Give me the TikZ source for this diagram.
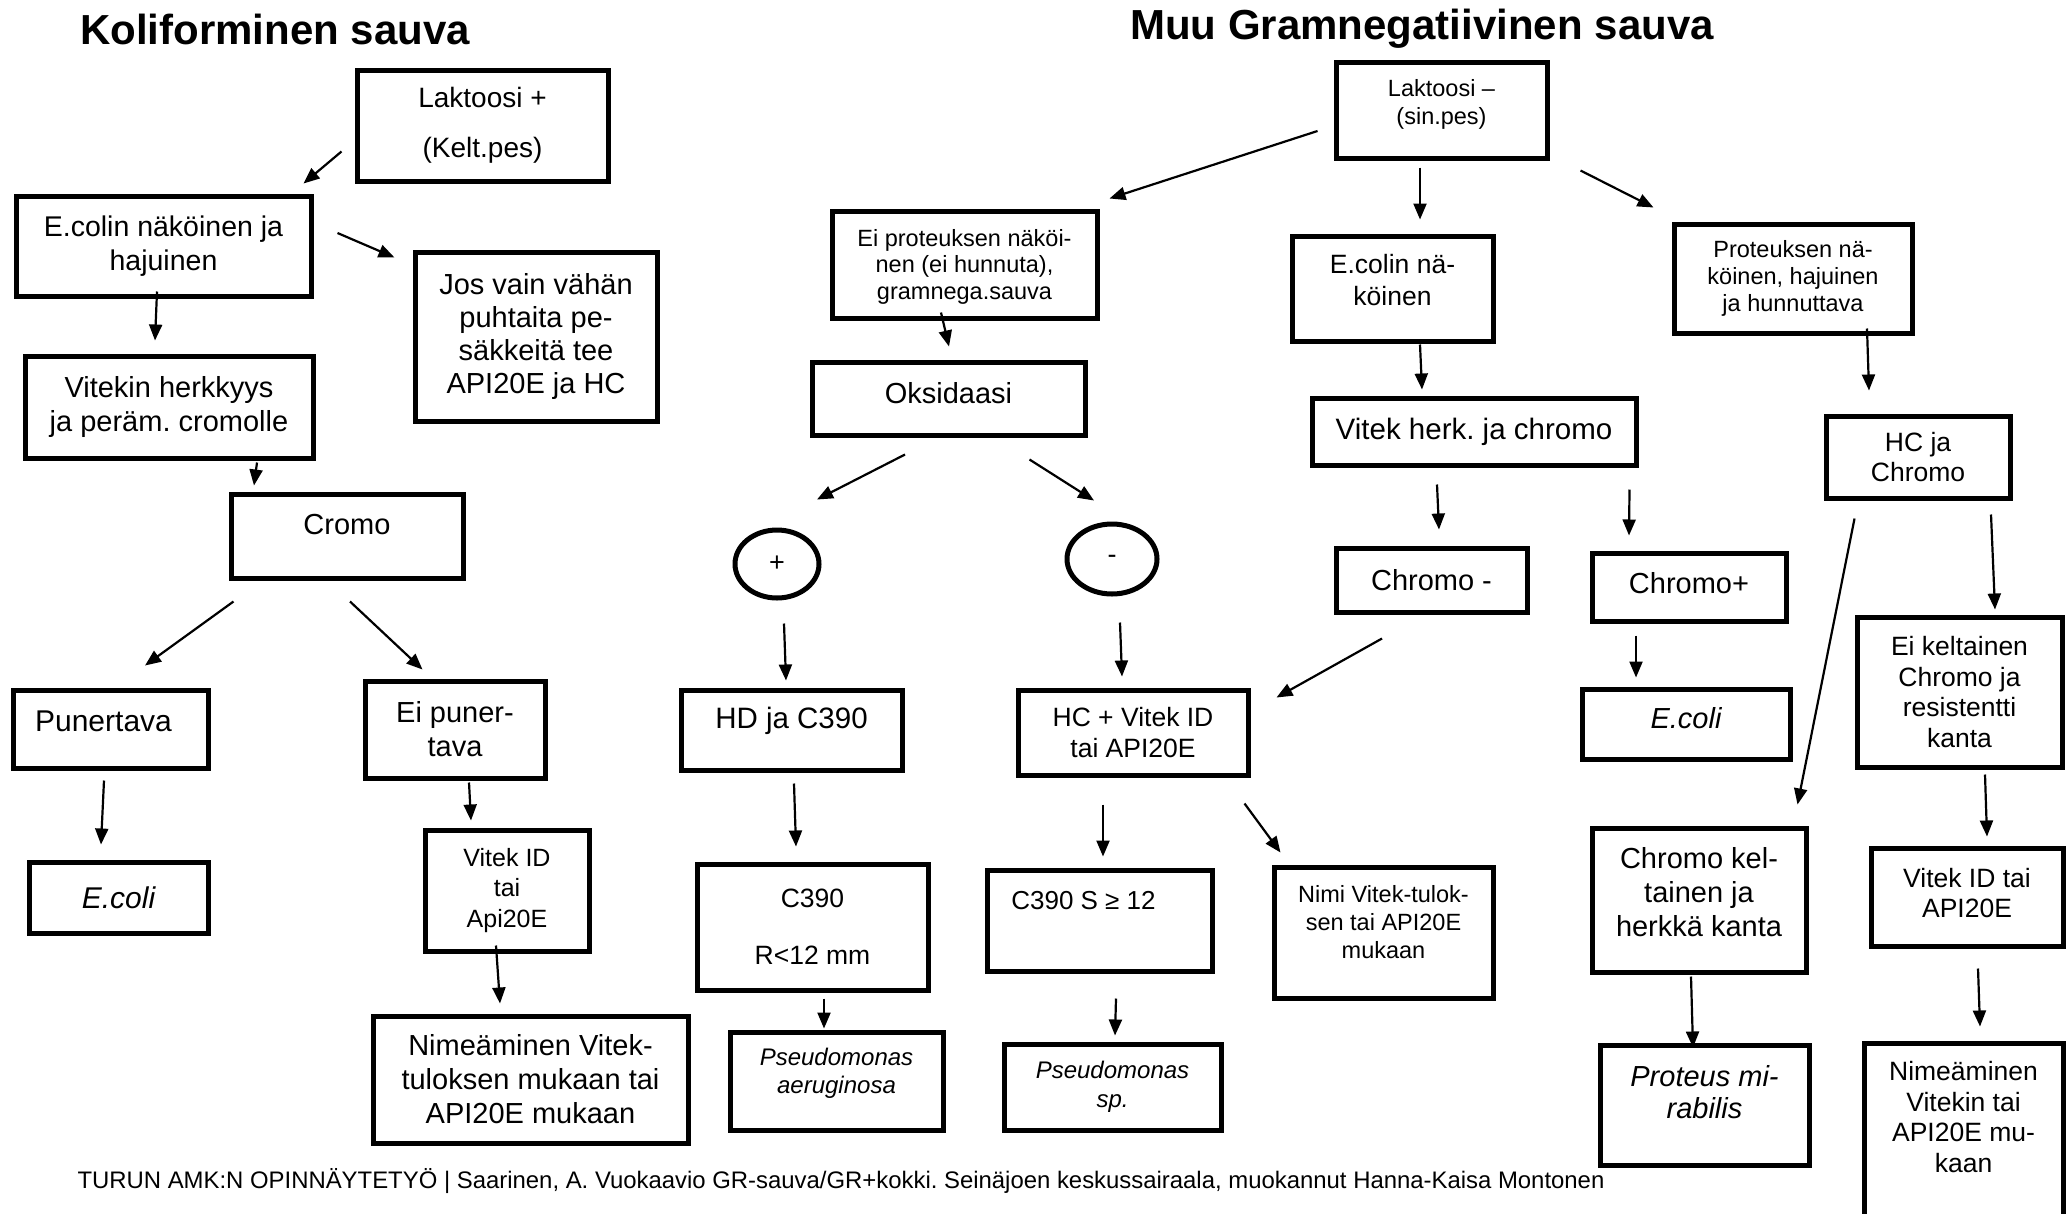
\documentclass[tikz,border=0pt]{standalone}
\usepackage{fontspec}
\setmainfont{Liberation Sans}
\usetikzlibrary{arrows.meta,calc,shapes.geometric}
\frenchspacing

\newcommand{\fsz}[2]{\fontsize{#1pt}{#2pt}\selectfont}

\tikzset{
  box/.style={draw, line width=5pt, inner sep=0pt, align=center},
  wh/.style 2 args={minimum width=#1pt, minimum height=#2pt},
  oval/.style={draw, ellipse, line width=5pt, inner sep=0pt},
  arr/.style={-{Triangle[length=16pt,width=13pt]}, line width=2.2pt},
  title/.style={font=\bfseries\fsz{42}{48}},
}

\begin{document}
\begin{tikzpicture}[x=1pt, y=-1pt]
  \useasboundingbox (0,0) rectangle (2066,1213);

  % titles
  \node[title] (tkoli) at (275,29) {Koliforminen sauva};
  \node[title] (tmuu) at (1422,29) {Muu Gramnegatiivinen sauva};

  % boxes, coliform side
  \node[box, wh={251}{111}, font=\fsz{28}{50}] (lakp) at (482.5,125.5) {Laktoosi +\\(Kelt.pes)};
  \node[box, wh={295}{100}, font=\fsz{28.5}{34}] (ecolin) at (163.5,246) {E.colin näköinen ja\\hajuinen};
  \node[box, wh={242}{169}, font=\fsz{29}{33}] (jos) at (536,336.5) {Jos vain vähän\\puhtaita pe-\\säkkeitä tee\\API20E ja HC};
  \node[box, wh={288}{102}, font=\fsz{29}{34}] (vitekin) at (169,407) {Vitekin herkkyys\\ja peräm. cromolle};
  \node[box, wh={232}{84}, label={[font=\fsz{29}{34}, yshift=11pt]center:Cromo}] (cromo) at (347,536) {};
  \node[box, wh={195}{78}, label={[font=\fsz{30}{34}, xshift=-7pt, yshift=8pt]center:Punertava}] (punert) at (110.5,729) {};
  \node[box, wh={180}{97}, font=\fsz{29}{34}] (eipun) at (455,729.5) {Ei puner-\\tava};
  \node[box, wh={179}{71}, font=\itshape\fsz{30}{34}] (ecolil) at (118.5,897.5) {E.coli};
  \node[box, wh={164}{121}, font=\fsz{25}{30.5}] (vitekid) at (507,890.5) {Vitek ID\\tai\\Api20E};
  \node[box, wh={315}{127}, font=\fsz{29}{34}] (nimeam) at (530.5,1079.5) {Nimeäminen Vitek-\\tuloksen mukaan tai\\API20E mukaan};

  % boxes, other gram negative side
  \node[box, wh={211}{96}, label={[align=center, font=\fsz{23.5}{28}, yshift=6pt]center:{Laktoosi –\\(sin.pes)}}] (lakm) at (1441.5,110) {};
  \node[box, wh={265}{107}, label={[align=center, font=\fsz{23.5}{26.5}, yshift=-2pt]center:{Ei proteuksen näköi-\\nen (ei hunnuta),\\gramnega.sauva}}] (eiprot) at (964.5,264.5) {};
  \node[box, wh={201}{105}, label={[align=center, font=\fsz{26.5}{32}, yshift=8pt]center:{E.colin nä-\\köinen}}] (ecolinr) at (1392.5,288.5) {};
  \node[box, wh={238}{109}, font=\fsz{23.5}{27}] (proteuk) at (1793,278.5) {Proteuksen nä-\\köinen, hajuinen\\ja hunnuttava};
  \node[box, wh={273}{73}, label={[font=\fsz{29}{34}, yshift=5pt]center:Oksidaasi}] (oksid) at (948.5,398.5) {};
  \node[box, wh={324}{67}, font=\fsz{29.5}{34}] (vitherk) at (1474,431.5) {Vitek herk. ja chromo};
  \node[box, wh={184}{82}, font=\fsz{26.5}{30}] (hcchromo) at (1918,457) {HC ja\\Chromo};
  \node[oval, minimum width=84pt, minimum height=68pt, font=\fsz{27}{30}] (plus) at (777,564) {+};
  \node[oval, minimum width=90pt, minimum height=70pt, font=\fsz{27}{30}] (minus) at (1112,559) {-};
  \node[box, wh={191}{64}, font=\fsz{29}{34}] (chrm) at (1431.5,580) {Chromo -};
  \node[box, wh={194}{68}, label={[font=\fsz{29}{34}, yshift=4pt]center:Chromo+}] (chrp) at (1689,587) {};
  \node[box, wh={205}{150}, font=\fsz{26.5}{30.5}] (eikelt) at (1959.5,692) {Ei keltainen\\Chromo ja\\resistentti\\kanta};
  \node[box, wh={221}{80}, label={[font=\fsz{29.5}{34}, yshift=9pt]center:HD ja C390}] (hdc) at (791.5,730) {};
  \node[box, wh={230}{85}, font=\fsz{26.5}{31}] (hcvit) at (1133,732.5) {HC + Vitek ID\\tai API20E};
  \node[box, wh={208}{70}, label={[font=\itshape\fsz{29}{34}, yshift=6pt]center:E.coli}] (ecolir) at (1686,724) {};
  \node[box, wh={214}{144}, label={[align=center, font=\fsz{29}{34}, yshift=8pt]center:{Chromo kel-\\tainen ja\\herkkä kanta}}] (chrkel) at (1699,900) {};
  \node[box, wh={192}{98}, label={[align=center, font=\fsz{26.5}{30}, yshift=4pt]center:{Vitek ID tai\\API20E}}] (vitidr) at (1967,897) {};
  \node[box, wh={231}{126}, font=\fsz{26.5}{57}] (c390r) at (812.5,927) {C390\\R<12 mm};
  \node[box, wh={225}{101}, label={[font=\fsz{26}{30}, xshift=-16pt, yshift=20pt]center:C390 S ≥ 12}] (c390s) at (1099.5,920.5) {};
  \node[box, wh={219}{131}, label={[align=center, font=\fsz{23.5}{28}, yshift=10pt]center:{Nimi Vitek-tulok-\\sen tai API20E\\mukaan}}] (nimi) at (1383.5,932.5) {};
  \node[box, wh={213}{98}, label={[align=center, font=\itshape\fsz{24}{28}, yshift=8pt]center:{Pseudomonas\\aeruginosa}}] (pseua) at (836.5,1081) {};
  \node[box, wh={217}{86}, font=\itshape\fsz{24}{29}] (pseus) at (1112.5,1087) {Pseudomonas\\sp.};
  \node[box, wh={209}{120}, label={[align=center, font=\itshape\fsz{29}{32}, yshift=13pt]center:{Proteus mi-\\rabilis}}] (proteus) at (1704.5,1105) {};
  \node[box, wh={199}{200}, label={[align=center, font=\fsz{26.5}{30.7}, yshift=26pt]center:{Nimeäminen\\Vitekin tai\\API20E mu-\\kaan}}] (nimr) at (1963.5,1143) {};

  % source line
  \node[font=\fsz{23.9}{27}] (foot) at (841,1181) {TURUN AMK:N OPINNÄYTETYÖ | Saarinen, A. Vuokaavio GR-sauva/GR+kokki. Seinäjoen keskussairaala, muokannut Hanna-Kaisa Montonen};

  % arrows, coliform side
  \draw[arr] ($(lakp.west)+(-13,26)$) -- ($(ecolin.north east)+(-10,-10)$);
  \draw[arr] ($(ecolin.east)+(24,-13)$) -- ($(jos.north west)+(-18,8)$);
  \draw[arr] ($(ecolin.south)+(-6.5,-7)$) -- ($(vitekin.north)+(-14,-13)$);
  \draw[arr] ($(vitekin.south)+(88,2)$) -- ($(cromo.north)+(-93,-6)$);
  \draw[arr] ($(cromo.south west)+(5,21)$) -- ($(punert.north)+(34.5,-22)$);
  \draw[arr] ($(cromo.south)+(3,21)$) -- ($(eipun.north west)+(60,-9)$);
  \draw[arr] ($(punert.south)+(-6.5,10)$) -- ($(ecolil.north)+(-17.5,-15)$);
  \draw[arr] ($(eipun.south)+(14,2)$) -- ($(vitekid.north)+(-36,-7)$);
  \draw[arr] ($(vitekid.south)+(-11,-8)$) -- ($(nimeam.north)+(-30.5,-10)$);

  % arrows, other gram negative side
  \draw[arr] ($(lakm.west)+(-16,21)$) -- ($(eiprot.north east)+(10,-10)$);
  \draw[arr] ($(lakm.south)+(-21.5,7)$) -- ($(ecolinr.north)+(27.5,-14)$);
  \draw[arr] ($(lakm.south east)+(31,10)$) -- ($(proteuk.north west)+(-18,-14)$);
  \draw[arr] ($(eiprot.south)+(-23.5,-8)$) -- ($(oksid.north)+(0.5,-13)$);
  \draw[arr] ($(ecolinr.south)+(27.5,1)$) -- ($(vitherk.north)+(-52,-6)$);
  \draw[arr] ($(proteuk.south)+(74,-7)$) -- ($(hcchromo.north)+(-49,-23)$);
  \draw[arr] ($(oksid.south)+(-43.5,17)$) -- ($(plus.north)+(40,-28)$);
  \draw[arr] ($(oksid.south east)+(-58,22)$) -- ($(minus.north)+(-18,-21)$);
  \draw[arr] ($(vitherk.south)+(-37,17)$) -- ($(chrm.north)+(7.5,-16)$);
  \draw[arr] ($(vitherk.south east)+(-9,22)$) -- ($(chrp.north)+(-60,-15)$);
  \draw[arr] ($(plus.south)+(7,23)$) -- ($(hdc.north)+(-5.5,-7)$);
  \draw[arr] ($(minus.south)+(8,26)$) -- ($(hcvit.north)+(-11,-11)$);
  \draw[arr] ($(chrm.south)+(-49.5,24)$) -- ($(hcvit.north east)+(26,10)$);
  \draw[arr] ($(chrp.south)+(-53,12)$) -- ($(ecolir.north)+(-50,-9)$);
  \draw[arr] ($(hcchromo.south west)+(31,18)$) -- ($(chrkel.north east)+(-11,-21)$);
  \draw[arr] ($(hcchromo.south)+(73,14)$) -- ($(eikelt.north)+(35.5,-5)$);
  \draw[arr] ($(hdc.south)+(2.5,11)$) -- ($(c390r.north)+(-16.5,-15)$);
  \draw[arr] ($(hcvit.south)+(-30,27)$) -- ($(c390s.north)+(3.5,-11)$);
  \draw[arr] ($(hcvit.south east)+(-6,26)$) -- ($(nimi.north west)+(9,-12)$);
  \draw[arr] ($(c390r.south)+(11.5,6)$) -- ($(pseua.north)+(-12.5,-1)$);
  \draw[arr] ($(c390s.south)+(16.5,25)$) -- ($(pseus.north)+(2.5,-6)$);
  \draw[arr] ($(eikelt.south)+(25.5,5)$) -- ($(vitidr.north)+(20,-9)$);
  \draw[arr] ($(chrkel.south)+(-8,2)$) -- ($(proteus.north)+(-11.5,5)$);
  \draw[arr] ($(vitidr.south)+(11,20)$) -- ($(nimr.north)+(16.5,-14)$);
\end{tikzpicture}
\end{document}
